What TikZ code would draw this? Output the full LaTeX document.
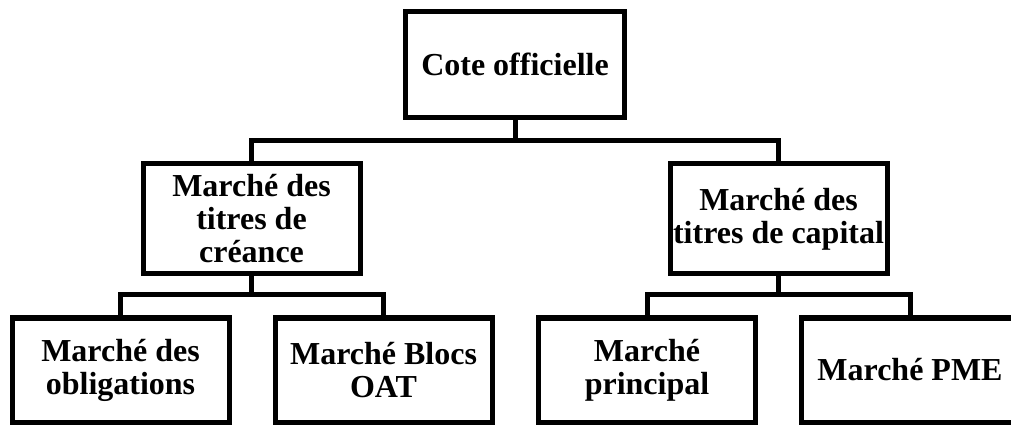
\documentclass[tikz,border=0pt]{standalone}
\usepackage{fontspec}
\setmainfont{Liberation Serif}
\begin{document}
\begin{tikzpicture}[x=1pt,y=-1pt,
  box/.style={draw=black, line width=5pt, fill=white, inner sep=0pt,
    align=center, font=\bfseries\fontsize{32}{33}\selectfont,
    minimum width=217pt},
  toplevel/.style={box, minimum width=218.5pt, minimum height=106pt},
  midlevel/.style={box, minimum height=110pt},
  leaf/.style={box, minimum height=104pt},
  link/.style={draw=black, line width=5pt}]
  \useasboundingbox (0,0) rectangle (1011,427);
  \clip (0,0) rectangle (1011,427);

  % tree nodes
  \node[toplevel] (cote) at (515,64.5) {Cote officielle};
  \node[midlevel] (creance) at (251.5,219) {Marché des\\titres de\\créance};
  \node[midlevel] (capital) at (778.5,219) {Marché des\\titres de capital};
  \node[leaf] (oblig) at (120.5,370) {Marché des\\obligations};
  \node[leaf] (oat) at (383.5,370) {Marché Blocs\\OAT};
  \node[leaf] (princ) at (647,370) {Marché\\principal};
  \node[leaf] (pme) at (910,370) {Marché PME};

  % branching points of the connectors
  \coordinate (j0) at (cote.south |- 0,141);
  \coordinate (j1) at (creance.south |- 0,295);
  \coordinate (j2) at (capital.south |- 0,295);

  % connectors
  \draw[link] (cote.south) -- (j0);
  \draw[link] (creance.north) |- (j0) -| (capital.north);
  \draw[link] (creance.south) -- (j1);
  \draw[link] (oblig.north) |- (j1) -| (oat.north);
  \draw[link] (capital.south) -- (j2);
  \draw[link] (princ.north) |- (j2) -| (pme.north);
\end{tikzpicture}
\end{document}
